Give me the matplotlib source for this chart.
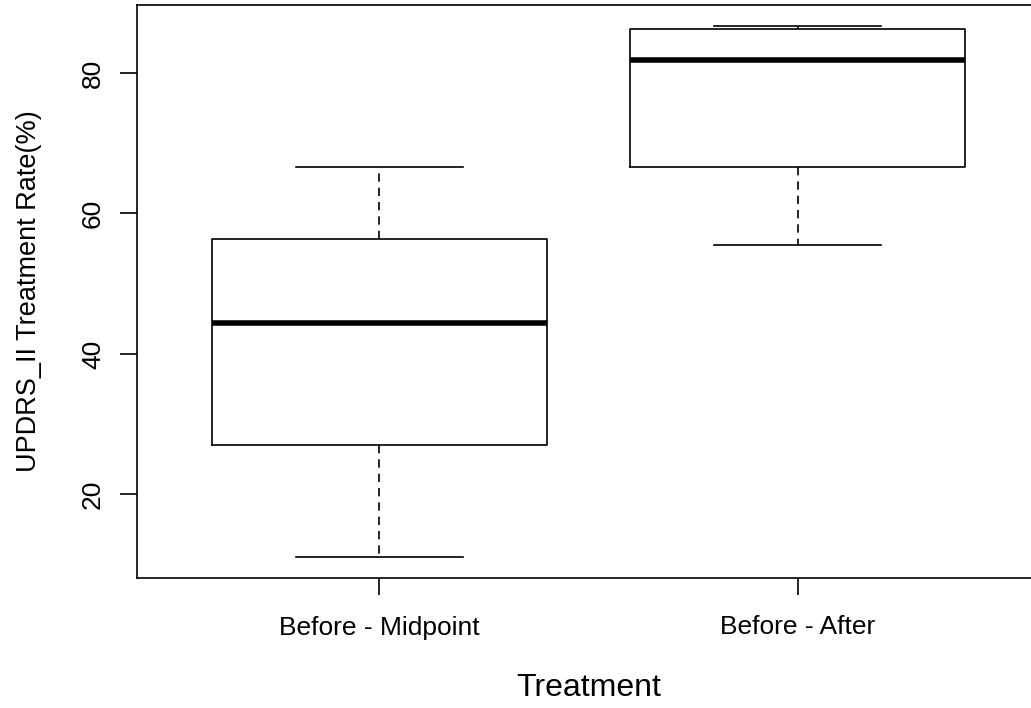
import matplotlib
matplotlib.use("Agg")
import matplotlib.pyplot as plt

plt.rcParams['font.family'] = ['Liberation Sans', 'DejaVu Sans']

groups = ["Before - Midpoint", "Before - After"]
whislo = [11.11, 55.56]
q1 = [27.08, 66.67]
med = [44.44, 81.82]
q3 = [56.36, 86.27]
whishi = [66.67, 86.67]

stats = []
for lab, lo, a, m, b, hi in zip(groups, whislo, q1, med, q3, whishi):
    stats.append(dict(label=lab, whislo=lo, q1=a, med=m, q3=b, whishi=hi, fliers=[]))

fig = plt.figure(figsize=(10.31, 7.08), dpi=100)
ax = fig.add_axes([137 / 1031, 1 - 578 / 708, (1040 - 137) / 1031, (578 - 5) / 708])

ax.bxp(stats, positions=[1, 2], widths=0.8, showfliers=False,
       boxprops=dict(color="black", linewidth=1.2),
       whiskerprops=dict(color="black", linewidth=1.2, linestyle=(0, (5, 3.6))),
       capprops=dict(color="black", linewidth=1.2),
       medianprops=dict(color="black", linewidth=4),
       capwidths=0.4)

ax.set_xlim(0.42, 2.58)
ax.set_ylim(8.09, 89.69)
ax.set_yticks([20, 40, 60, 80])
ax.set_xticks([1, 2])
ax.set_xticklabels(groups)
for lbl in ax.get_yticklabels():
    lbl.set_rotation(90)
    lbl.set_va("center")
ax.tick_params(axis="both", length=12, width=1.2, labelsize=19)
ax.tick_params(axis="x", pad=15)
ax.tick_params(axis="y", pad=11)
for s in ax.spines.values():
    s.set_linewidth(1.2)

ax.set_xlabel("Treatment", fontsize=23, labelpad=24)
ax.set_ylabel("UPDRS_II Treatment Rate(%)", fontsize=19.5, labelpad=28)

fig.savefig("out.png", dpi=100)
